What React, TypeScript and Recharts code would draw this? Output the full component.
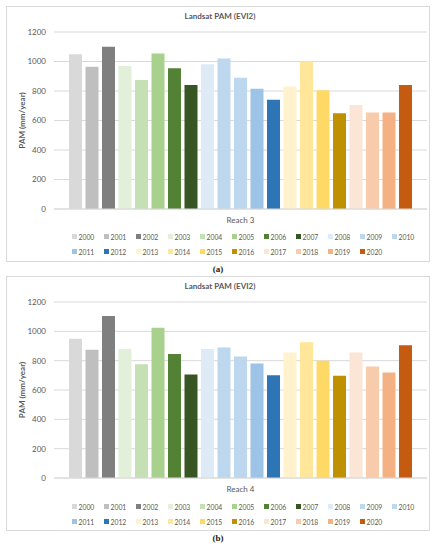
import React from "react";
import { BarChart, Bar, XAxis, YAxis, CartesianGrid, Legend } from "recharts";

// Landsat PAM (EVI2) per year, one group of 21 bars per reach.
const years = [
  "2000", "2001", "2002", "2003", "2004", "2005", "2006", "2007", "2008", "2009", "2010",
  "2011", "2012", "2013", "2014", "2015", "2016", "2017", "2018", "2019", "2020",
];

// Office palette shades, one per year
const yearColors = [
  "#D9D9D9", "#BFBFBF", "#7F7F7F",
  "#E2F0D9", "#C5E0B4", "#A9D18E", "#548235", "#375623",
  "#DEEBF7", "#BDD7EE", "#BDD7EE", "#9DC3E6", "#2E75B6",
  "#FFF2CC", "#FFE699", "#FFD966", "#BF9000",
  "#FBE5D6", "#F8CBAD", "#F4B183", "#C55A11",
];

const reach3 = [
  1050, 965, 1100, 970, 875, 1055, 955, 840, 982, 1020, 890,
  815, 740, 830, 1000, 805, 650, 705, 655, 655, 840,
];

const reach4 = [
  950, 875, 1105, 880, 775, 1025, 845, 705, 880, 890, 828,
  780, 700, 855, 925, 800, 698, 855, 760, 720, 905,
];

const yTicks = [0, 200, 400, 600, 800, 1000, 1200];

const FONT = "Lato, 'Open Sans', sans-serif";
const GREY = "#595959";
const GRID = "#D9D9D9";

type LegendEntry = { value?: string | number; color?: string };

function YearLegend({ payload }: { payload?: LegendEntry[] }) {
  return (
    <div style={{ display: "flex", flexWrap: "wrap", width: 352, fontFamily: FONT }}>
      {(payload ?? []).map((p) => (
        <div
          key={String(p.value)}
          style={{ width: 32, height: 15, display: "flex", alignItems: "center", fontSize: 6.8, color: GREY }}
        >
          <span style={{ width: 4.5, height: 4.5, background: p.color, marginRight: 2, flex: "none" }} />
          <span>{p.value}</span>
        </div>
      ))}
    </div>
  );
}

type PanelProps = {
  top: number;
  height: number;
  reach: string;
  values: number[];
  caption: string;
};

function Panel({ top, height, reach, values, caption }: PanelProps) {
  const row: Record<string, string | number> = { name: reach };
  years.forEach((y, i) => {
    row[y] = values[i];
  });
  const data = [row];

  return (
    <>
      <div
        style={{
          position: "absolute",
          left: 6,
          top,
          width: 424,
          height,
          border: `1px solid ${GRID}`,
          boxSizing: "border-box",
          background: "white",
        }}
      >
        <div style={{ position: "absolute", left: -1, top: -1 }}>
          <div
            style={{
              position: "absolute",
              top: 5,
              left: 0,
              width: 428,
              textAlign: "center",
              fontFamily: FONT,
              fontWeight: 700,
              fontSize: 8,
              color: GREY,
              zIndex: 2,
            }}
          >
            Landsat PAM (EVI2)
          </div>
          <BarChart
            width={424}
            height={height}
            data={data}
            margin={{ top: 26, right: 3, left: 8, bottom: 23 }}
            barCategoryGap={15}
            barGap={3.5}
          >
            <CartesianGrid vertical={false} stroke={GRID} strokeWidth={1} />
            <XAxis
              dataKey="name"
              height={30}
              tickLine={false}
              axisLine={{ stroke: GRID }}
              tick={{ fontSize: 8, fill: GREY, fontFamily: FONT }}
            />
            <YAxis
              width={40}
              domain={[0, 1200]}
              ticks={yTicks}
              axisLine={false}
              tickLine={false}
              tick={{ fontSize: 8, fill: GREY, fontFamily: FONT }}
              label={{
                value: "PAM (mm/year)",
                angle: -90,
                position: "insideLeft",
                offset: 8,
                style: { fontSize: 8, fill: GREY, fontWeight: 700, fontFamily: FONT, textAnchor: "middle" },
              }}
            />
            <Legend
              layout="horizontal"
              verticalAlign="middle"
              align="center"
              content={(props: { payload?: LegendEntry[] }) => <YearLegend payload={props.payload} />}
              wrapperStyle={{ left: 66, top: 223, bottom: "auto", width: 352, height: "auto" }}
            />
            {years.map((y, i) => (
              <Bar key={y} dataKey={y} fill={yearColors[i]} isAnimationActive={false} />
            ))}
          </BarChart>
        </div>
      </div>
      <div
        style={{
          position: "absolute",
          left: 0,
          top: top + height + 2,
          width: 436,
          textAlign: "center",
          fontFamily: "'Liberation Serif', serif",
          fontWeight: 700,
          fontSize: 9,
          color: "#222",
        }}
      >
        {caption}
      </div>
    </>
  );
}

export default function App() {
  return (
    <div style={{ position: "absolute", left: 0, top: 0, width: 441, height: 550, background: "white" }}>
      <Panel top={6} height={256} reach="Reach 3" values={reach3} caption="(a)" />
      <Panel top={276} height={255} reach="Reach 4" values={reach4} caption="(b)" />
    </div>
  );
}
